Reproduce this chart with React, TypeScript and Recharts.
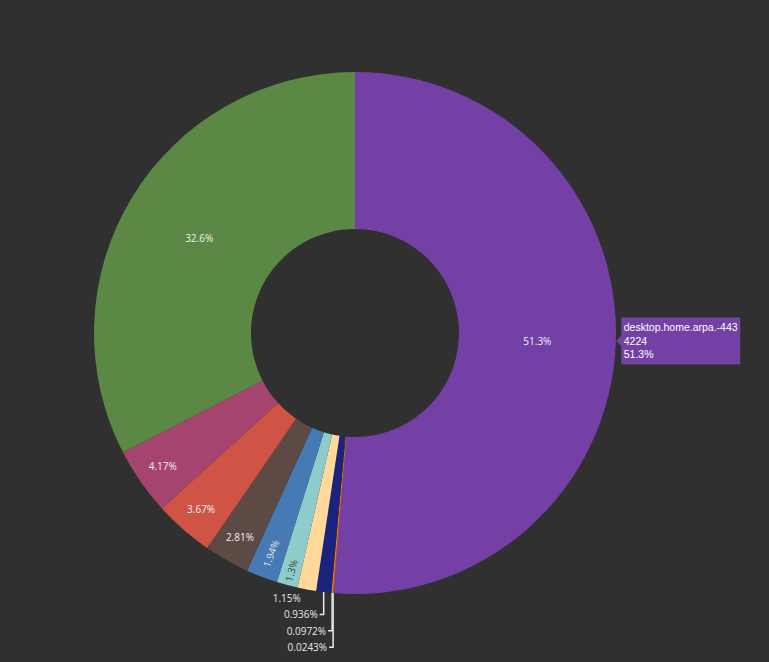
import React from "react";
import { PieChart, Pie, Cell } from "recharts";

// slices listed clockwise from 12 o'clock
const names = [
  "desktop.home.arpa.-443",
  "host-j",
  "host-i",
  "host-h",
  "host-g",
  "host-f",
  "host-e",
  "host-d",
  "host-c",
  "host-b",
  "host-a",
];
const counts = [4224, 2, 8, 77, 95, 107, 160, 231, 302, 343, 2681];
const colors = [
  "#7440a6",
  "#f57c00",
  "#f57c00",
  "#1a237e",
  "#ffd89a",
  "#8ecbcb",
  "#457ab5",
  "#5d4a45",
  "#cf5445",
  "#a5446e",
  "#5b8945",
];

const BG = "#303030";
const RAD = Math.PI / 180;

const data = names.map((name, i) => ({ name, value: counts[i] }));
const total = counts.reduce((a, b) => a + b, 0);

function fmtPct(p: number) {
  const v = p * 100;
  return `${Number(v.toPrecision(3))}%`;
}

function pt(cx: number, cy: number, r: number, angle: number) {
  return { x: cx + r * Math.cos(-angle * RAD), y: cy + r * Math.sin(-angle * RAD) };
}

const renderLabel = (props: any) => {
  const { cx, cy, midAngle, innerRadius, outerRadius, percent, index } = props;
  const text = fmtPct(percent);
  const font = { fontFamily: "'Open Sans', sans-serif", fontSize: 10 };

  if (percent < 0.012) {
    // outside, stacked below the ring
    const k = 4 - index;
    const p = pt(cx, cy, outerRadius, midAngle);
    const ly = cy + outerRadius + 4 + k * 16.4;
    if (k === 0) {
      return (
        <text key={`l${index}`} x={p.x - 6} y={ly} textAnchor="end" dominantBaseline="central" fill="#e8e8e8" {...font}>
          {text}
        </text>
      );
    }
    return (
      <g key={`l${index}`}>
        <polyline
          points={`${p.x},${p.y} ${p.x},${ly} ${p.x - 4},${ly}`}
          fill="none"
          stroke="#e8e8e8"
          strokeWidth={1.5}
        />
        <text x={p.x - 6} y={ly} textAnchor="end" dominantBaseline="central" fill="#e8e8e8" {...font}>
          {text}
        </text>
      </g>
    );
  }

  if (percent < 0.025) {
    const r = percent < 0.015 ? outerRadius - 15 : outerRadius - 25;
    const p = pt(cx, cy, r, midAngle);
    const rot = -midAngle - 180;
    return (
      <text
        key={`l${index}`}
        x={p.x}
        y={p.y}
        textAnchor="middle"
        dominantBaseline="central"
        transform={`rotate(${rot} ${p.x} ${p.y})`}
        fill={percent < 0.015 ? "#444444" : "#e8e8e8"}
        {...font}
      >
        {text}
      </text>
    );
  }

  const r = percent < 0.1 ? outerRadius - 27 : (innerRadius + outerRadius) / 2;
  const p = pt(cx, cy, r, midAngle);
  const label = (
    <text x={p.x} y={p.y} textAnchor="middle" dominantBaseline="central" fill="#f0f0f0" {...font}>
      {text}
    </text>
  );

  if (index !== 0) return <g key={`l${index}`}>{label}</g>;

  // hover box of the first slice
  const tip = pt(cx, cy, outerRadius + 1, midAngle);
  const ty = tip.y - 3;
  const bx = tip.x + 5;
  const by = ty - 23;
  return (
    <g key={`l${index}`}>
      {label}
      <path
        d={`M${tip.x},${ty} L${bx},${ty - 5} L${bx},${by} L${bx + 118},${by} L${bx + 118},${by + 46} L${bx},${by + 46} L${bx},${ty + 5} Z`}
        fill={colors[0]}
        stroke="#8a62b8"
        strokeWidth={0.5}
      />
      <g fontFamily="'Liberation Sans', Arial, sans-serif" fontSize={10.5} fill="#ffffff">
        <text x={bx + 2} y={by + 13}>{names[0]}</text>
        <text x={bx + 2} y={by + 27}>{counts[0]}</text>
        <text x={bx + 2} y={by + 40}>{fmtPct(counts[0] / total)}</text>
      </g>
    </g>
  );
};

export default function App() {
  return (
    <div style={{ position: "absolute", left: 0, top: 0, width: 769, height: 662, background: BG }}>
      <PieChart width={769} height={662} margin={{ top: 0, right: 0, bottom: 0, left: 0 }}>
        <Pie
          data={data}
          dataKey="value"
          nameKey="name"
          cx={355}
          cy={333}
          innerRadius={104}
          outerRadius={261}
          startAngle={90}
          endAngle={-270}
          stroke="none"
          label={renderLabel}
          labelLine={false}
          isAnimationActive={false}
        >
          {data.map((d, i) => (
            <Cell key={d.name} fill={colors[i]} />
          ))}
        </Pie>
      </PieChart>
    </div>
  );
}
